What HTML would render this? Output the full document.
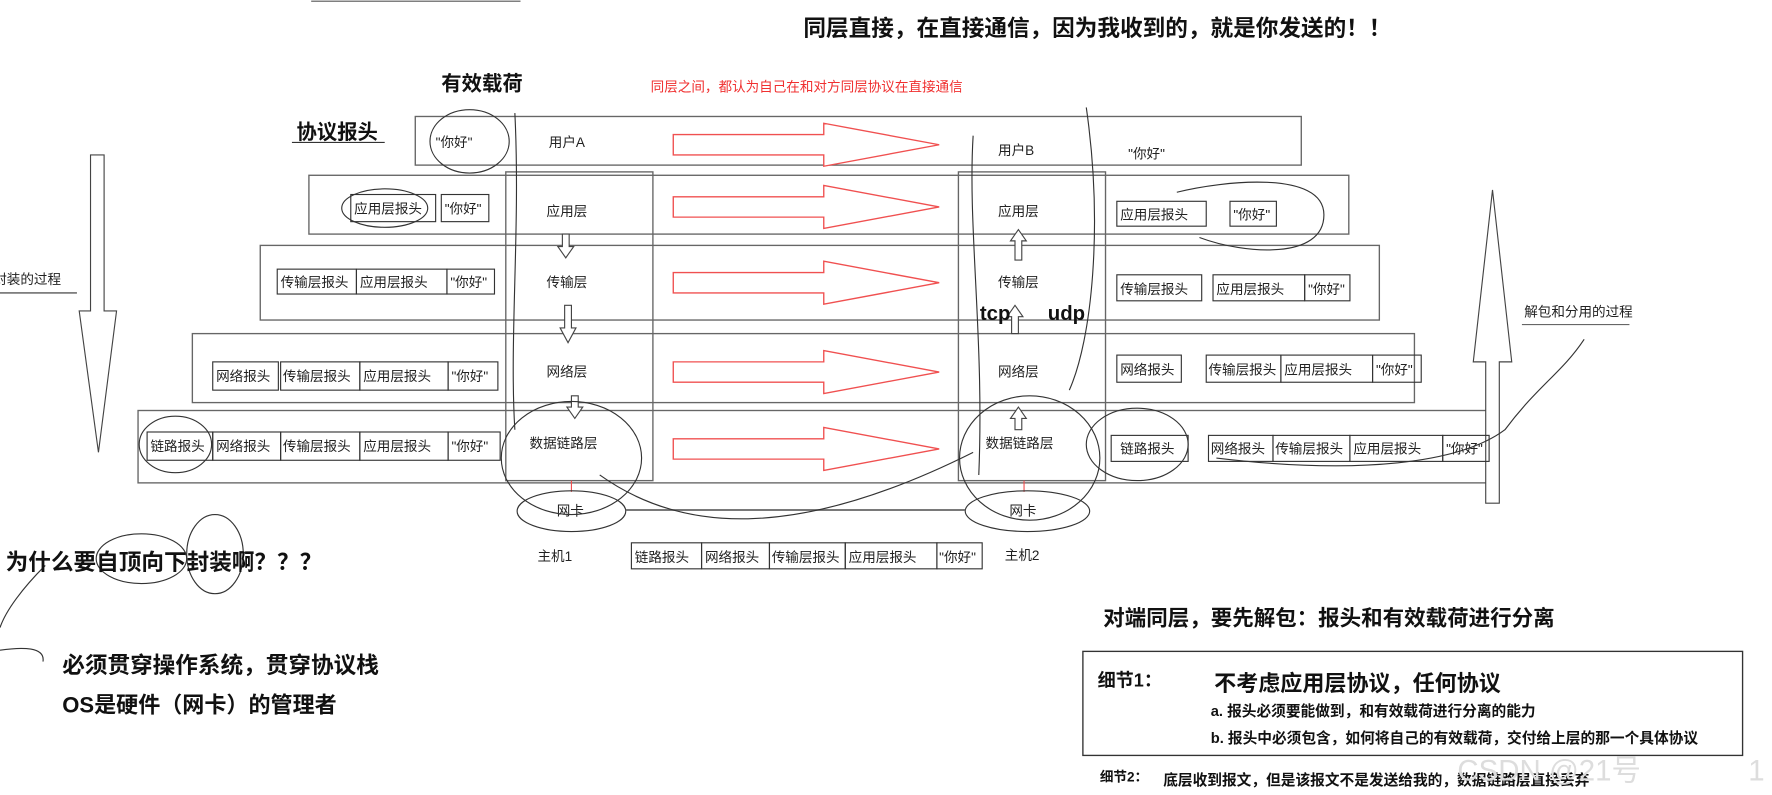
<!DOCTYPE html>
<html><head><meta charset="utf-8"><style>
html,body{margin:0;padding:0;background:#fff;width:1772px;height:795px;overflow:hidden}
svg{display:block}
text{font-family:"Liberation Sans","Noto Sans CJK SC",sans-serif;fill:#222}
.b{font-weight:bold;fill:#111}
</style></head><body>
<svg width="1772" height="795" viewBox="0 0 1566 703" preserveAspectRatio="none" xmlns="http://www.w3.org/2000/svg">
<defs>
<g id="ra"><polygon points="0,-9 133,-9 133,-19 235,0 133,19 133,9 0,9" fill="#fff" stroke="#f05050" stroke-width="1.2"/></g>
</defs>
<line x1="275" y1="1" x2="460" y2="1" stroke="#555"/>
<text x="710" y="32" class="b" font-size="20">同层直接，在直接通信，因为我收到的，就是你发送的！！</text>
<text x="575" y="81" font-size="12" style="fill:#f03030">同层之间，都认为自己在和对方同层协议在直接通信</text>
<text x="390" y="80" class="b" font-size="18">有效载荷</text>
<text x="262" y="123" class="b" font-size="18">协议报头</text>
<line x1="258" y1="126" x2="340" y2="126" stroke="#333"/>
<g fill="none" stroke="#666" stroke-width="1.2">
<rect x="367" y="103" width="783" height="43"/>
<rect x="273" y="155" width="919" height="52"/>
<rect x="230" y="217" width="989" height="66"/>
<rect x="170" y="295" width="1080" height="61"/>
<rect x="122" y="363" width="1202" height="64"/>
<rect x="447" y="152" width="130" height="273"/>
<rect x="847" y="152" width="130" height="273"/>
</g>
<g font-size="12">
<text x="485" y="130">用户A</text><text x="882" y="137">用户B</text>
<text x="483" y="191">应用层</text><text x="483" y="254">传输层</text><text x="483" y="333">网络层</text><text x="468" y="396">数据链路层</text>
<text x="882" y="191">应用层</text><text x="882" y="254">传输层</text><text x="882" y="333">网络层</text><text x="871" y="396">数据链路层</text>
<text x="385" y="130">"你好"</text><text x="997" y="140">"你好"</text>
</g>
<use href="#ra" x="595" y="128"/><use href="#ra" x="595" y="183"/><use href="#ra" x="595" y="250"/><use href="#ra" x="595" y="329"/><use href="#ra" x="595" y="397"/>
<g fill="#fff" stroke="#444">
<polygon points="497,207 503,207 503,218 507,218 500,228 493,218 497,218"/>
<polygon points="499,270 505,270 505,290 509,290 502,303 495,290 499,290"/>
<polygon points="505,350 511,350 511,360 515,360 508,370 501,360 505,360"/>
<polygon points="897,230 903,230 903,213 907,213 900,203 893,213 897,213"/>
<polygon points="894,295 900,295 900,280 904,280 897,270 890,280 894,280"/>
<polygon points="897,380 903,380 903,370 907,370 900,360 893,370 897,370"/>
<polygon points="80,137 92,137 92,275 103,275 87,400 70,275 80,275"/>
<polygon points="1313,445 1325,445 1325,320 1336,320 1319,168 1302,320 1313,320"/>
</g>
<text x="-6" y="251" font-size="12">封装的过程</text>
<line x1="0" y1="259" x2="68" y2="259" stroke="#333"/>
<text x="1347" y="280" font-size="12">解包和分用的过程</text>
<line x1="1345" y1="287" x2="1440" y2="287" stroke="#666"/>
<g font-size="12" fill="none" stroke="#333">
<rect x="310" y="172" width="75" height="24"/><rect x="390" y="172" width="42" height="24"/>
<rect x="245" y="238" width="70" height="22"/><rect x="315" y="238" width="80" height="22"/><rect x="395" y="238" width="42" height="22"/>
<rect x="188" y="320" width="58" height="25"/><rect x="248" y="320" width="70" height="25"/><rect x="318" y="320" width="78" height="25"/><rect x="396" y="320" width="44" height="25"/>
<rect x="130" y="382" width="58" height="25"/><rect x="188" y="382" width="60" height="25"/><rect x="248" y="382" width="70" height="25"/><rect x="318" y="382" width="78" height="25"/><rect x="396" y="382" width="46" height="25"/>
<rect x="987" y="178" width="79" height="22"/><rect x="1087" y="178" width="41" height="22"/>
<rect x="987" y="243" width="75" height="23"/><rect x="1072" y="243" width="81" height="23"/><rect x="1153" y="243" width="40" height="23"/>
<rect x="987" y="314" width="57" height="24"/><rect x="1066" y="314" width="66" height="24"/><rect x="1132" y="314" width="81" height="24"/><rect x="1213" y="314" width="43" height="24"/>
<rect x="982" y="385" width="68" height="23"/><rect x="1068" y="385" width="57" height="23"/><rect x="1125" y="385" width="68" height="23"/><rect x="1193" y="385" width="82" height="23"/><rect x="1275" y="385" width="41" height="23"/>
<rect x="558" y="480" width="62" height="23"/><rect x="620" y="480" width="60" height="23"/><rect x="680" y="480" width="67" height="23"/><rect x="747" y="480" width="81" height="23"/><rect x="828" y="480" width="40" height="23"/>
</g>
<g font-size="12">
<text x="313" y="189">应用层报头</text><text x="393" y="189">"你好"</text>
<text x="248" y="254">传输层报头</text><text x="318" y="254">应用层报头</text><text x="398" y="254">"你好"</text>
<text x="191" y="337">网络报头</text><text x="250" y="337">传输层报头</text><text x="321" y="337">应用层报头</text><text x="399" y="337">"你好"</text>
<text x="133" y="399">链路报头</text><text x="191" y="399">网络报头</text><text x="250" y="399">传输层报头</text><text x="321" y="399">应用层报头</text><text x="399" y="399">"你好"</text>
<text x="990" y="194">应用层报头</text><text x="1090" y="194">"你好"</text>
<text x="990" y="260">传输层报头</text><text x="1075" y="260">应用层报头</text><text x="1156" y="260">"你好"</text>
<text x="990" y="331">网络报头</text><text x="1068" y="331">传输层报头</text><text x="1135" y="331">应用层报头</text><text x="1216" y="331">"你好"</text>
<text x="990" y="401">链路报头</text><text x="1070" y="401">网络报头</text><text x="1127" y="401">传输层报头</text><text x="1196" y="401">应用层报头</text><text x="1278" y="401">"你好"</text>
<text x="561" y="497">链路报头</text><text x="623" y="497">网络报头</text><text x="682" y="497">传输层报头</text><text x="750" y="497">应用层报头</text><text x="830" y="497">"你好"</text>
<text x="492" y="456">网卡</text><text x="892" y="456">网卡</text>
</g>
<line x1="505" y1="425" x2="505" y2="435" stroke="#f05050"/><line x1="905" y1="425" x2="905" y2="435" stroke="#f05050"/>
<g fill="none" stroke="#333">
<ellipse cx="505" cy="452" rx="48" ry="18"/><ellipse cx="908" cy="452" rx="55" ry="18"/>
<line x1="553" y1="451" x2="853" y2="451" stroke="#666" stroke-width="1.5"/>
<ellipse cx="415" cy="125" rx="35" ry="28"/><ellipse cx="340" cy="184" rx="38" ry="17"/><ellipse cx="1005" cy="393" rx="45" ry="32"/>
<ellipse cx="155" cy="393" rx="32" ry="25"/><ellipse cx="505" cy="405" rx="62" ry="50"/><ellipse cx="910" cy="405" rx="62" ry="55"/>
<path d="M1075,405 C1200,420 1290,410 1330,380 C1360,340 1380,330 1400,300"/>
<path d="M1040,170 C1080,160 1170,150 1170,190 C1170,230 1100,225 1060,210"/>
<path d="M860,120 C855,200 870,300 865,420"/><path d="M960,95 C975,200 965,300 945,345"/>
<path d="M455,380 C450,300 460,200 455,100"/>
<path d="M530,420 C600,470 700,480 860,400"/>
<path d="M40,500 C20,520 5,540 0,555"/><path d="M0,575 C20,572 40,572 38,585"/>
<ellipse cx="125" cy="494" rx="40" ry="22"/><ellipse cx="190" cy="490" rx="25" ry="35"/>
</g>
<text x="866" y="283" class="b" font-size="18">tcp</text><text x="926" y="283" class="b" font-size="18">udp</text>
<text x="475" y="496" font-size="12">主机1</text><text x="888" y="495" font-size="12">主机2</text>
<text x="5" y="504" class="b" font-size="20">为什么要自顶向下封装啊？？？</text>
<text x="55" y="595" class="b" font-size="20">必须贯穿操作系统，贯穿协议栈</text>
<text x="55" y="630" class="b" font-size="19.5">OS是硬件（网卡）的管理者</text>
<text x="975" y="553" class="b" font-size="19">对端同层，要先解包：报头和有效载荷进行分离</text>
<rect x="957" y="576" width="583" height="92" fill="none" stroke="#333" stroke-width="1.2"/>
<text x="970" y="607" class="b" font-size="16">细节1：</text>
<text x="1073" y="611" class="b" font-size="19.5">不考虑应用层协议，任何协议</text>
<text x="1070" y="633" class="b" font-size="13">a. 报头必须要能做到，和有效载荷进行分离的能力</text>
<text x="1070" y="657" class="b" font-size="13">b. 报头中必须包含，如何将自己的有效载荷，交付给上层的那一个具体协议</text>
<text x="972" y="691" class="b" font-size="12">细节2：</text>
<text x="1028" y="694" class="b" font-size="13">底层收到报文，但是该报文不是发送给我的，数据链路层直接丢弃</text>
<text x="1288" y="690" font-size="26" style="fill:#ddd">CSDN @21号</text>
<text x="1545" y="690" font-size="26" style="fill:#ddd">1</text>
</svg>
</body></html>
